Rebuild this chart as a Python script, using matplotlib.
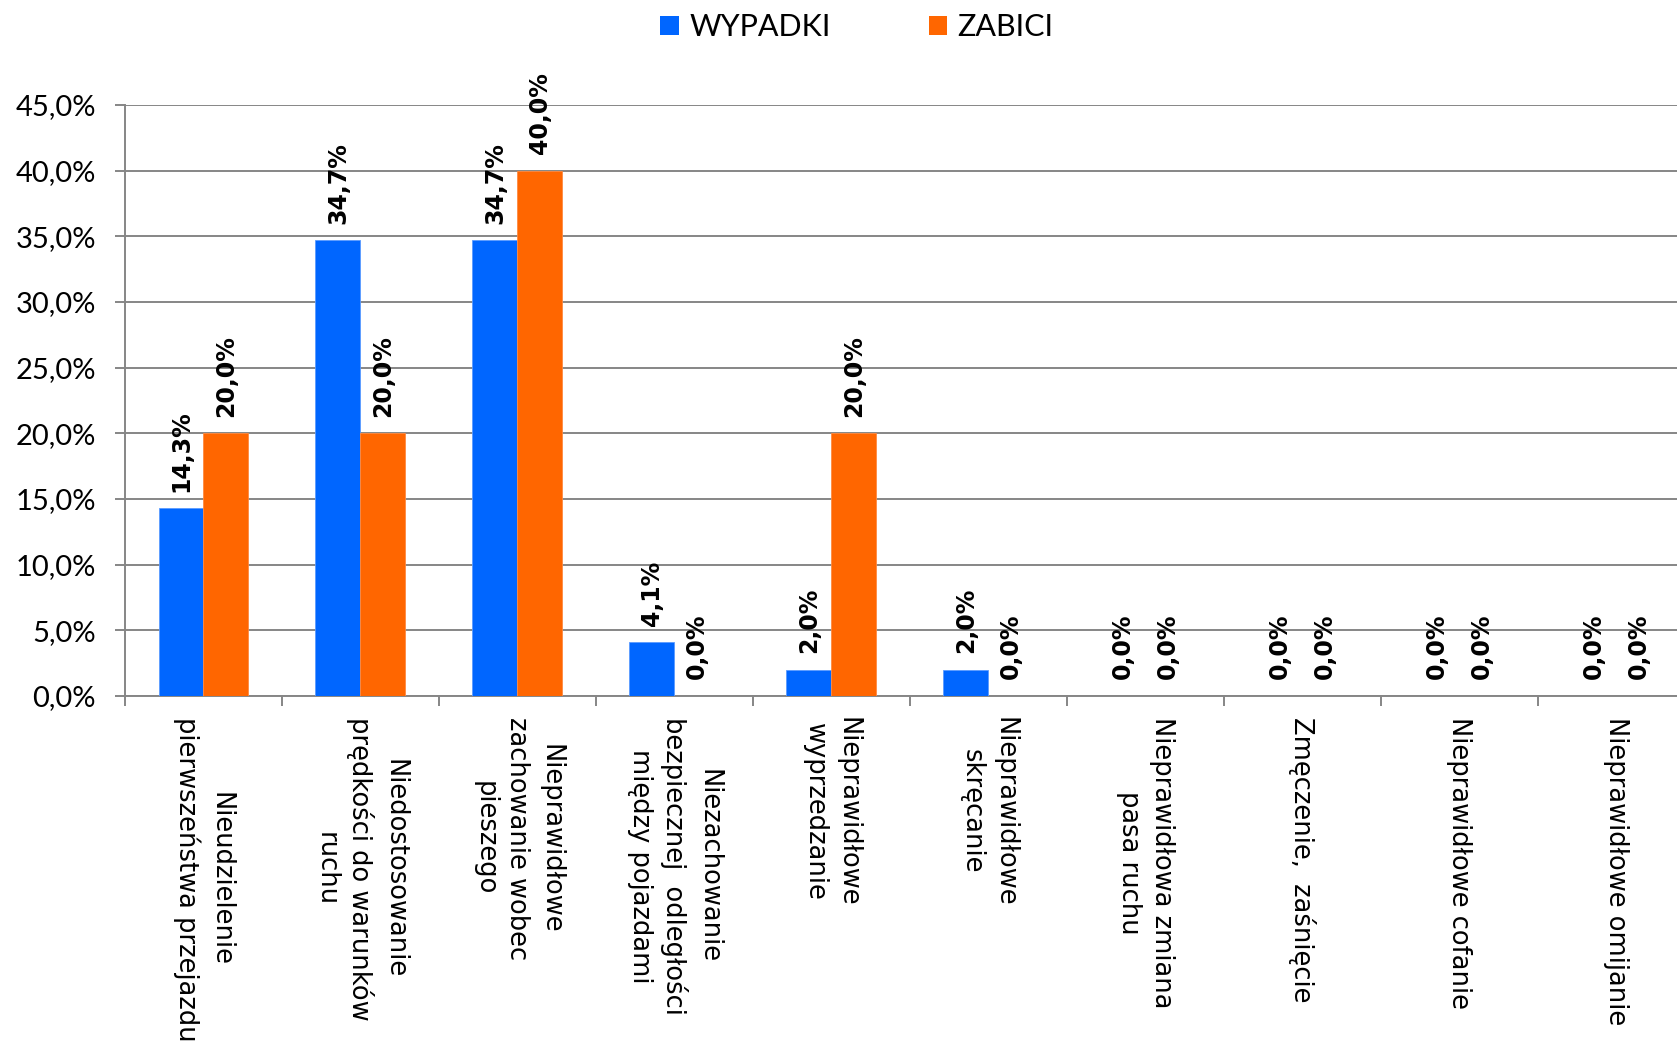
import numpy as np
import matplotlib
matplotlib.use("Agg")
import matplotlib.pyplot as plt
from matplotlib.patches import Patch

# data
categories = [
    "Nieudzielenie\npierwszeństwa przejazdu",
    "Niedostosowanie\nprędkości do warunków\nruchu",
    "Nieprawidłowe\nzachowanie wobec\npieszego",
    "Niezachowanie\nbezpiecznej  odległości\nmiędzy pojazdami",
    "Nieprawidłowe\nwyprzedzanie",
    "Nieprawidłowe\nskręcanie",
    "Nieprawidłowa zmiana\npasa ruchu",
    "Zmęczenie,  zaśnięcie",
    "Nieprawidłowe cofanie",
    "Nieprawidłowe omijanie",
]
wypadki = [14.3, 34.7, 34.7, 4.1, 2.0, 2.0, 0.0, 0.0, 0.0, 0.0]
zabici = [20.0, 20.0, 40.0, 0.0, 20.0, 0.0, 0.0, 0.0, 0.0, 0.0]
yticks = [0, 5, 10, 15, 20, 25, 30, 35, 40, 45]

blue = "#0066FF"
orange = "#FF6600"
grid_col = "#868686"
tick_font = ["Lato", "DejaVu Sans"]

fig = plt.figure(figsize=(16.77, 10.41), dpi=100)
# axes runs a bit past the right edge of the figure, like the cropped original
ax = fig.add_axes([0.0745, 0.3314, 0.936, 0.5677])

x = np.arange(len(categories))
w = 0.286
b1 = ax.bar(x - w / 2, wypadki, w, color=blue, edgecolor="#5a9bff", linewidth=0.6, zorder=3)
b2 = ax.bar(x + w / 2, zabici, w, color=orange, edgecolor="#ff8a40", linewidth=0.6, zorder=3)

def pct(v):
    return ("%.1f%%" % v).replace(".", ",")

for bars, vals in [(b1, wypadki), (b2, zabici)]:
    for rect, v in zip(bars, vals):
        ax.annotate(pct(v), (rect.get_x() + rect.get_width() / 2, rect.get_height()),
                    xytext=(0, 12), textcoords="offset points", rotation=90,
                    ha="center", va="bottom", fontsize=17, fontweight="bold",
                    family="DejaVu Sans", color="black")

ax.set_xlim(-0.5, len(categories) - 0.5)
ax.set_ylim(0, 45)
ax.set_yticks(yticks)
ax.set_yticklabels([pct(v) for v in yticks], family=tick_font, fontsize=21)
ax.yaxis.grid(True, color=grid_col, linewidth=1.4, zorder=0)
ax.set_axisbelow(True)

# category ticks sit between the groups, labels at centres
ax.set_xticks(np.arange(len(categories) + 1) - 0.5)
ax.set_xticklabels([])
ax.set_xticks(x, minor=True)
ax.set_xticklabels(categories, minor=True, rotation=270, ha="center", va="top",
                   multialignment="center", fontsize=18.5, family="DejaVu Sans",
                   linespacing=1.35)
ax.tick_params(axis="x", which="minor", length=0, pad=15)
ax.tick_params(axis="x", which="major", length=7, width=1.4, color=grid_col)
ax.tick_params(axis="y", length=7, width=1.4, color=grid_col, pad=14)

for s in ["top", "right"]:
    ax.spines[s].set_visible(False)
for s in ["left", "bottom"]:
    ax.spines[s].set_color(grid_col)
    ax.spines[s].set_linewidth(1.4)

handles = [Patch(facecolor=blue, label="WYPADKI"), Patch(facecolor=orange, label="ZABICI")]
fig.legend(handles=handles, loc="center", bbox_to_anchor=(0.511, 0.974), ncol=2,
           frameon=False, prop={"family": tick_font, "size": 22},
           handlelength=0.6, handleheight=0.6, handletextpad=0.35, columnspacing=3.2)

fig.savefig("out.png", dpi=100)
